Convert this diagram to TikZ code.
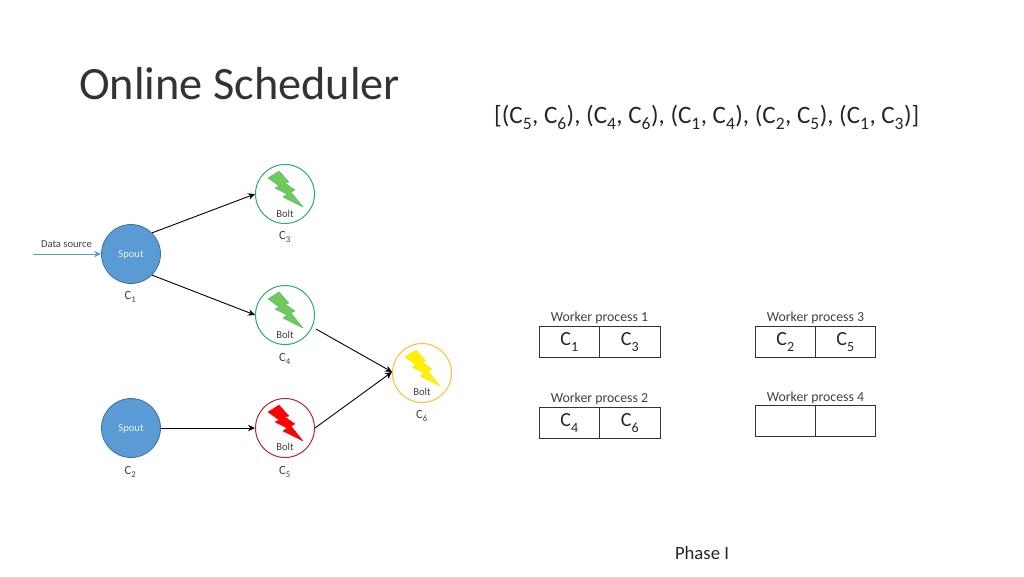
\documentclass[tikz,border=0pt]{standalone}
\usepackage{fontspec}
\setmainfont{Carlito}
\usetikzlibrary{arrows.meta}
\newcommand{\fs}[1]{\fontsize{#1}{#1}\selectfont}
\newcommand{\Cs}[1]{C\raisebox{-0.22ex}{\textsubscript{#1}}}
\newcommand{\lowered}[1]{\raisebox{-3.5pt}[0pt][0pt]{#1}}
\definecolor{spoutblue}{HTML}{5B9BD5}
\definecolor{spoutedge}{HTML}{41719C}
\definecolor{boltgreen}{HTML}{70C95A}
\definecolor{greenedge}{HTML}{2DA87A}
\definecolor{rededge}{HTML}{B02A30}
\definecolor{yellowedge}{HTML}{FFC02E}
\definecolor{inktext}{HTML}{404040}
\tikzset{
  x=1pt,y=-1pt,
  spoutnode/.style={circle,draw=spoutedge,fill=spoutblue,line width=0.8pt,minimum size=59pt,inner sep=0pt,text=white!85!spoutblue,font=\fs{10.6}},
  boltnode/.style={circle,line width=1pt,fill=white,minimum size=59pt,inner sep=0pt},
  boltlabel/.style={font=\fs{10.6},text=inktext,inner sep=0pt},
  cname/.style={font=\fs{12.5},text=inktext,inner sep=0pt},
  flow/.style={-{Stealth[length=7pt,width=6.5pt]},line width=0.9pt,black},
  wlabel/.style={font=\fs{13.8},text=inktext,inner sep=0pt},
  slotbox/.style={draw=black!80,line width=0.8pt,minimum width=60.5pt,minimum height=31pt,inner sep=0pt,font=\fs{20},text=black!85},
  boltshape/.pic={
    \path[pic actions]
      (-17,-16)--(-6,-23)--(4,-12)--(0,-11)--(10,-4)--(6,-2)--(18,13)--(-2,3)--(2,0)--(-10,-6)--(-6,-8)--cycle;
  }
}
\begin{document}
\begin{tikzpicture}
\useasboundingbox (0,0) rectangle (1024,576);
\node[inner sep=0pt,anchor=west,font=\fs{46.3},text=black!80] (title) at (79,84) {Online Scheduler};
\node[inner sep=0pt,anchor=west,font=\fs{25},text=black!85] (order) at (494,117.5) {[(\Cs{5}, \Cs{6}), (\Cs{4}, \Cs{6}), (\Cs{1}, \Cs{4}), (\Cs{2}, \Cs{5}), (\Cs{1}, \Cs{3})]};

\node[spoutnode] (c1) at (131,254) {\lowered{Spout}};
\node[spoutnode] (c2) at (131,428) {\lowered{Spout}};
\node[boltnode,draw=greenedge] (c3) at (285,194) {};
\node[boltnode,draw=greenedge] (c4) at (285,315) {};
\node[boltnode,draw=rededge] (c5) at (285,428) {};
\node[boltnode,draw=yellowedge] (c6) at (422,373) {};

\pic[fill=boltgreen,draw=greenedge!70!boltgreen,line width=0.3pt] at (c3) {boltshape};
\pic[fill=boltgreen,draw=greenedge!70!boltgreen,line width=0.3pt] at (c4) {boltshape};
\pic[fill=red,draw=red,line width=0.3pt] at (c5) {boltshape};
\pic[fill=yellow,draw=yellow!80!orange,line width=0.3pt] at (c6) {boltshape};

\node[boltlabel] (b3) at (285,214) {Bolt};
\node[boltlabel] (b4) at (285,335) {Bolt};
\node[boltlabel] (b5) at (285,447) {Bolt};
\node[boltlabel] (b6) at (422,392) {Bolt};

\node[cname] (n1) at (130.5,297) {\Cs{1}};
\node[cname] (n2) at (130.5,472) {\Cs{2}};
\node[cname] (n3) at (285,237) {\Cs{3}};
\node[cname] (n4) at (285,359) {\Cs{4}};
\node[cname] (n5) at (285,472) {\Cs{5}};
\node[cname] (n6) at (422,416) {\Cs{6}};

\node[font=\fs{10.6},text=inktext,inner sep=0pt] (ds) at (66.5,244.5) {Data source};
\coordinate (dsin) at (33,254);
\coordinate (c4out) at (316,329);
\draw[-{Stealth[length=7pt,width=6.5pt]},line width=0.9pt,spoutblue] (dsin) -- (c1.180);
\draw[flow] (c1.45) -- (c3.180);
\draw[flow] (c1.-45) -- (c4.180);
\draw[flow] (c2.0) -- (c5.180);
\draw[flow] (c4out) -- (c6.178);
\draw[flow] (c5.0) -- (c6.178);

\node[wlabel] (w1) at (599.5,318) {Worker process 1};
\node[wlabel] (w2) at (599.5,399) {Worker process 2};
\node[wlabel] (w3) at (815.5,318) {Worker process 3};
\node[wlabel] (w4) at (815.5,397.5) {Worker process 4};

\node[slotbox] (s1) at (569.5,342) {\Cs{1}};
\node[slotbox] (s3) at (630,342) {\Cs{3}};
\node[slotbox] (s4) at (569.5,423) {\Cs{4}};
\node[slotbox] (s6) at (630,423) {\Cs{6}};
\node[slotbox] (s2) at (785.5,342) {\Cs{2}};
\node[slotbox] (s5) at (845.5,342) {\Cs{5}};
\node[slotbox] (s7) at (785.5,421) {};
\node[slotbox] (s8) at (845.5,421) {};

\node[font=\fs{18.7},text=black!85,inner sep=0pt] (phase) at (702,553) {Phase I};
\end{tikzpicture}
\end{document}
